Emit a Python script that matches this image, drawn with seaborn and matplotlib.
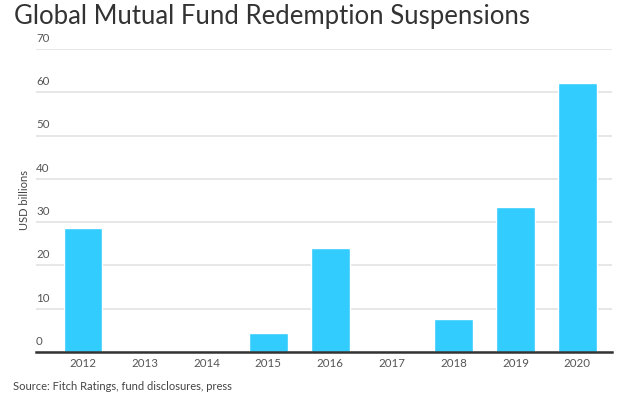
import seaborn as sns
import matplotlib.pyplot as plt
import pandas as pd

years = ["2012", "2013", "2014", "2015", "2016", "2017", "2018", "2019", "2020"]
usd_billions = [28.6, 0, 0, 4.5, 24.0, 0, 7.7, 33.4, 62.2]
y_ticks = [0, 10, 20, 30, 40, 50, 60, 70]

df = pd.DataFrame({"year": years, "value": usd_billions})

sns.set_style("white")
plt.rcParams["font.family"] = ["Lato", "DejaVu Sans"]

fig = plt.figure(figsize=(6.24, 3.97), dpi=100)
ax = fig.add_axes([36 / 624, 1 - 352 / 397, (612 - 36) / 624, (352 - 49) / 397])

sns.barplot(data=df, x="year", y="value", color="#33CCFF", saturation=1,
            width=0.63, ax=ax, zorder=3)

ax.set_ylim(0, 70)
ax.set_xlim(-0.76, 8.56)
ax.set_yticks(y_ticks)
ax.set_yticklabels([])
ax.tick_params(axis="y", length=0)
for t in y_ticks:
    ax.axhline(t, color="#e3e3e3", lw=1.2, zorder=1)
    ax.text(0, t + 1.2, str(t), transform=ax.get_yaxis_transform(),
            fontsize=8.3, color="#555555", ha="left", va="bottom")

ax.tick_params(axis="x", length=0, pad=4, labelsize=8.3, labelcolor="#555555")
ax.set_xlabel("")
ax.set_ylabel("")
for s in ["top", "right", "left"]:
    ax.spines[s].set_visible(False)
ax.spines["bottom"].set_color("#333333")
ax.spines["bottom"].set_linewidth(1.8)
ax.spines["bottom"].set_zorder(4)

fig.text(24 / 624, 1 - 200 / 397, "USD billions", rotation=90, fontsize=8,
         color="#444444", ha="center", va="center")
fig.text(14 / 624, 1 - 24 / 397, "Global Mutual Fund Redemption Suspensions",
         fontsize=18.5, color="#333333", ha="left", va="baseline")
fig.text(13 / 624, 1 - 386 / 397, "Source: Fitch Ratings, fund disclosures, press",
         fontsize=8, color="#444444", ha="left", va="center")

fig.savefig("out.png", dpi=100)
